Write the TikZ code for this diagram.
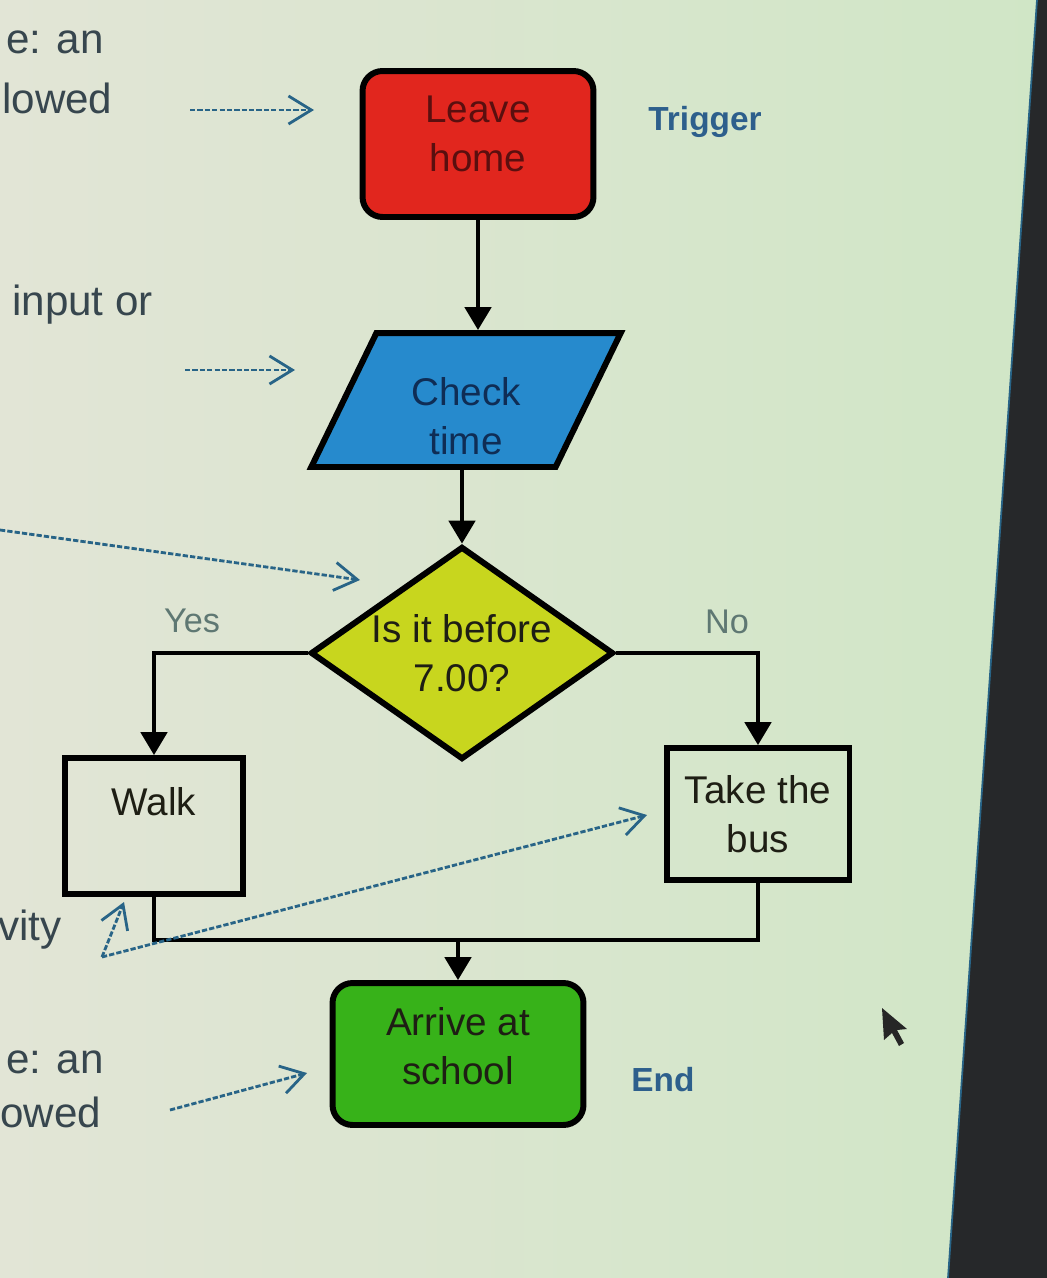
\documentclass[tikz,border=0pt]{standalone}
\usepackage{fontspec}
\setmainfont{Liberation Sans}
\usetikzlibrary{shapes.geometric}
\usetikzlibrary{arrows.meta}
\definecolor{homered}{RGB}{225,38,30}
\definecolor{timeblue}{RGB}{38,138,205}
\definecolor{decyellow}{RGB}{200,214,30}
\definecolor{schoolgreen}{RGB}{55,178,25}
\definecolor{notecol}{RGB}{40,100,135}
\definecolor{notetext}{RGB}{45,95,140}
\definecolor{sidetext}{RGB}{55,70,78}
\definecolor{branchtext}{RGB}{95,120,115}
\definecolor{screenl}{RGB}{226,229,214}
\definecolor{screenr}{RGB}{208,230,198}
\definecolor{bezel}{RGB}{38,40,42}
\begin{document}
\begin{tikzpicture}[x=0.02cm,y=-0.02cm,
  every node/.style={font=\fontsize{22pt}{28pt}\selectfont,align=center,text={rgb,255:red,30;green,30;blue,20}},
  box/.style={draw,line width=3.4pt,inner sep=2pt},
  flow/.style={line width=2pt,-{Triangle[width=15pt,length=13pt]}},
  note/.style={notecol,line width=1.6pt,dash pattern=on 3pt off 1.2pt,-{Straight Barb[length=13pt,width=16pt]}},
  side/.style={anchor=west,font=\fontsize{24pt}{28pt}\selectfont,text=sidetext},
  tag/.style={font=\bfseries\fontsize{19pt}{22pt}\selectfont,text=notetext},
  branch/.style={font=\fontsize{19.5pt}{22pt}\selectfont,text=branchtext}]
  \useasboundingbox (0,0) rectangle (1047,1278);
  \shade[left color=screenl,right color=screenr] (0,0) rectangle (1047,1278);
  \fill[bezel] (1037,0) -- (1047,0) -- (1047,1278) -- (948,1278) -- cycle;
  \draw[notecol,line width=1pt] (1037,0) -- (948,1278);

  \node[box,rounded corners=0.4cm,fill=homered,minimum width=4.62cm,minimum height=2.92cm,text depth=0.4cm,text={rgb,255:red,90;green,15;blue,15}] (home) at (478,144) {Leave\\home};
  \node[box,trapezium,trapezium left angle=70,trapezium right angle=110,trapezium stretches=true,minimum width=6.2cm,minimum height=2.68cm,text height=2.18cm,fill=timeblue,text={rgb,255:red,15;green,45;blue,85}] (time) at (466,400) {Check\\time};
  \node[box,diamond,shape aspect=1.41,inner sep=0pt,minimum width=6.06cm,minimum height=4.26cm,fill=decyellow] (dec) at (462,653) {Is it before\\7.00?};
  \node[box,minimum width=3.58cm,minimum height=2.72cm] (walk) at (154,826) {Walk\\~};
  \node[box,minimum width=3.66cm,minimum height=2.64cm] (bus) at (758,814) {Take the\\bus};
  \node[box,rounded corners=0.4cm,fill=schoolgreen,minimum width=5.02cm,minimum height=2.84cm,text depth=0.32cm] (school) at (458,1054) {Arrive at\\school};

  \node[tag] (trigger) at (705,122) {Trigger};
  \node[tag] (end) at (663,1080) {End};
  \node[branch] (yes) at (192,621) {Yes};
  \node[branch] (no) at (727,622) {No};

  \node[side] (s1) at (0,42) {e: an};
  \node[side] (s2) at (-4,98) {lowed};
  \node[side] (s3) at (6,305) {input or};
  \node[side] (s4) at (-8,930) {vity};
  \node[side] (s5) at (0,1062) {e: an};
  \node[side] (s6) at (-6,1112) {owed};

  \draw[flow] (home.south) -- (home.south |- time.north);
  \draw[flow] (dec.north |- time.south) -- (dec.north);
  \draw[flow] (dec.west) -| (walk.north);
  \draw[flow] (dec.east) -| (bus.north);
  \coordinate (merge) at (458,940);
  \draw[line width=2pt] (walk.south) |- (merge);
  \draw[line width=2pt] (bus.south) |- (merge);
  \draw[flow] (merge) -- (school.north);

  \coordinate (n1) at (190,110);
  \coordinate (h1) at (314,110);
  \coordinate (n2) at (185,370);
  \coordinate (h2) at (295,370);
  \coordinate (n3) at (0,530);
  \coordinate (h3) at (360,580);
  \coordinate (n4) at (102,957);
  \coordinate (h4) at (647,815);
  \coordinate (h5) at (124,902);
  \coordinate (n6) at (170,1110);
  \coordinate (h6) at (307,1073);
  \draw[note] (n1) -- (h1);
  \draw[note] (n2) -- (h2);
  \draw[note] (n3) -- (h3);
  \draw[note] (n4) -- (h4);
  \draw[note] (n4) -- (h5);
  \draw[note] (n6) -- (h6);

  \fill[black!85] (882,1008) -- (884,1040) -- (892,1033) -- (899,1046) -- (904,1043) -- (897,1030) -- (907,1029) -- cycle;
\end{tikzpicture}
\end{document}
